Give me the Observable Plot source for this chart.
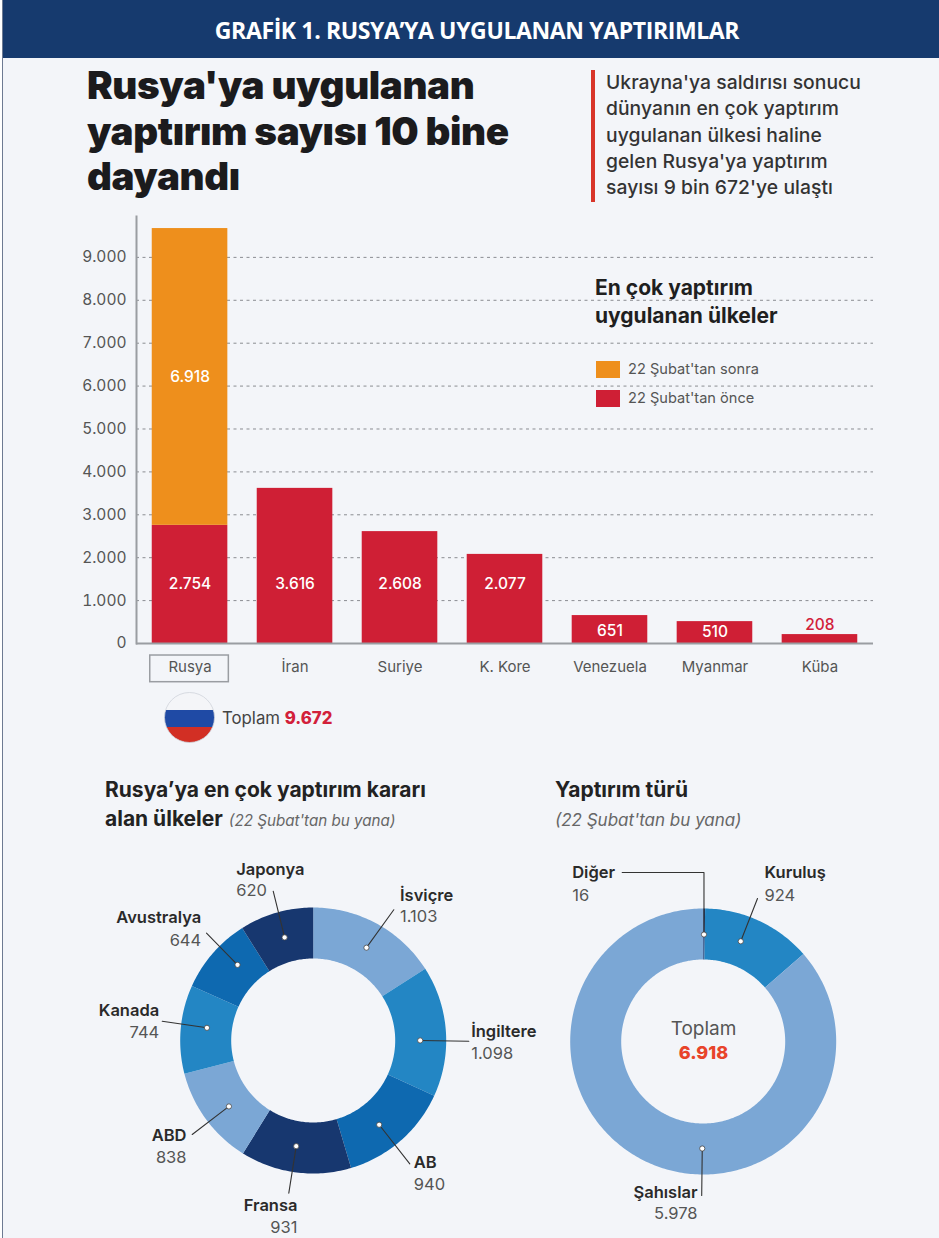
<!DOCTYPE html>
<html lang="tr">
<head>
<meta charset="utf-8">
<script src="https://cdn.jsdelivr.net/npm/d3@7"></script>
<script src="https://cdn.jsdelivr.net/npm/@observablehq/plot@0.6"></script>
<style>
html,body{margin:0;padding:0;background:#fff}
#page{position:relative;width:939px;height:1238px;overflow:hidden;background:#f3f5f9;font-family:Inter,sans-serif;color:#222}
#page>*{position:absolute}
.t{white-space:nowrap;margin:0}
</style>
</head>
<body>
<div id="page">
  <div style="left:0;top:0;width:2px;height:1238px;background:#fff"></div>
  <div style="left:2px;top:0;width:1px;height:1238px;background:#6d7a92"></div>
  <div style="left:3px;top:0;width:936px;height:58px;background:#163a6e"></div>
  <div class="t" style="left:15px;width:924px;top:14px;text-align:center;color:#fff;font:700 23px 'Open Sans',sans-serif;letter-spacing:-.38px">GRAFİK 1. RUSYA’YA UYGULANAN YAPTIRIMLAR</div>
  <h1 class="t" style="left:87px;top:63px;font:900 38.6px/45.5px Inter,sans-serif;color:#1b1b1d;letter-spacing:-.4px">Rusya'ya uygulanan<br>yaptırım sayısı 10 bine<br>dayandı</h1>
  <div style="left:591px;top:70px;width:3.5px;height:132px;background:#d8352a"></div>
  <div class="t" style="left:606px;top:69px;font:500 19.3px/26.3px Inter,sans-serif;color:#333;letter-spacing:.05px">Ukrayna'ya saldırısı sonucu<br>dünyanın en çok yaptırım<br>uygulanan ülkesi haline<br>gelen Rusya'ya yaptırım<br>sayısı 9 bin 672'ye ulaştı</div>

  <div id="bars" style="left:0;top:200px"></div>

  <div class="t" style="left:595px;top:274px;font:700 21px/28px Inter,sans-serif;color:#1f1f1f">En çok yaptırım<br>uygulanan ülkeler</div>
  <div style="left:596px;top:361px;width:24px;height:17px;background:#ee8f1c"></div>
  <div class="t" style="left:628px;top:361px;font:400 14.6px/17px Inter,sans-serif;color:#555">22 Şubat'tan sonra</div>
  <div style="left:596px;top:390px;width:24px;height:17px;background:#cf1f35"></div>
  <div class="t" style="left:628px;top:390px;font:400 14.6px/17px Inter,sans-serif;color:#555">22 Şubat'tan önce</div>

  <svg style="left:164px;top:692px" width="51" height="51" viewBox="0 0 51 51">
    <defs><clipPath id="flag"><circle cx="25.5" cy="25.5" r="25"/></clipPath></defs>
    <g clip-path="url(#flag)">
      <rect width="51" height="18" fill="#f4f5f8"/>
      <rect y="18" width="51" height="17" fill="#1f4aa5"/>
      <rect y="35" width="51" height="16" fill="#d22f24"/>
    </g>
    <circle cx="25.5" cy="25.5" r="25" fill="none" stroke="#cfd3da" stroke-width=".8"/>
  </svg>
  <div class="t" style="left:222px;top:709px;font:400 16.8px/19px Inter,sans-serif;color:#444">Toplam <b style="font-weight:800;color:#d2203a;font-size:16.8px">9.672</b></div>

  <div class="t" style="left:105px;top:775px;font:700 21px/29px Inter,sans-serif;color:#222">Rusya’ya en çok yaptırım kararı<br>alan ülkeler <i style="font:italic 400 15.2px Inter,sans-serif;color:#666;margin-left:1px">(22 Şubat'tan bu yana)</i></div>
  <div class="t" style="left:555px;top:775px;font:700 21px/29px Inter,sans-serif;color:#222">Yaptırım türü<br><i style="font:italic 400 17px Inter,sans-serif;color:#666">(22 Şubat'tan bu yana)</i></div>

  <div id="donutLeft" style="left:60px;top:850px"></div>
  <div id="donutRight" style="left:550px;top:850px"></div>
</div>
<script>
// ---- bar chart data
const countries = ["Rusya", "İran", "Suriye", "K. Kore", "Venezuela", "Myanmar", "Küba"];
const before = [2754, 3616, 2608, 2077, 651, 510, 208];
const after = [6918, 0, 0, 0, 0, 0, 0];
const yTicks = [0, 1000, 2000, 3000, 4000, 5000, 6000, 7000, 8000, 9000];
const periods = ["22 Şubat'tan önce", "22 Şubat'tan sonra"];
const periodColors = ["#cf1f35", "#ee8f1c"];
// vertical place of each number inside its bar, in chart units
const beforeLabelAt = [1377, 1377, 1377, 1377, 290, 270, 440];

// ---- donut data
const senders = ["İsviçre", "İngiltere", "AB", "Fransa", "ABD", "Kanada", "Avustralya", "Japonya"];
const senderValues = [1103, 1098, 940, 931, 838, 744, 644, 620];
const senderColors = ["#7ba7d5", "#2386c4", "#0e69b0", "#17376f", "#7ba7d5", "#2386c4", "#0e69b0", "#17376f"];
const kinds = ["Diğer", "Kuruluş", "Şahıslar"];
const kindValues = [16, 924, 5978];
const kindColors = ["#17376f", "#2386c4", "#7ba7d5"];

// ---- layout of the donut annotations (page pixels)
const senderDotFrac = [.52, .57, .56, .53, .46, .55, .62, .52];
const senderLabels = [
  {anchor: "start", x: 399.5, y: 900, vy: 921.7, ex: 393.3, ey: 909.3},
  {anchor: "start", x: 470.7, y: 1036, vy: 1058, ex: 468.3, ey: 1040.7},
  {anchor: "start", x: 413.3, y: 1167, vy: 1189, ex: 409.3, ey: 1163.3},
  {anchor: "end", x: 297, y: 1210.7, vy: 1232.7, ex: 288.3, ey: 1192.7},
  {anchor: "end", x: 186, y: 1140.7, vy: 1162, ex: 191.7, ey: 1134},
  {anchor: "end", x: 158.7, y: 1015, vy: 1037, ex: 161.7, ey: 1020.7},
  {anchor: "end", x: 200.7, y: 922.7, vy: 945, ex: 206, ey: 932.7},
  {anchor: "start", x: 235.7, y: 874, vy: 895.7, ex: 272.7, ey: 890.7}
];
const kindDotFrac = [.5, .41, .423];
const kindLabels = [
  {anchor: "start", x: 571.7, y: 877.3, vy: 900, ex: 621.7, ey: 872, elbow: true},
  {anchor: "start", x: 764, y: 877.3, vy: 900.7, ex: 757, ey: 898},
  {anchor: "end", x: 697, y: 1197.5, vy: 1218.5, ex: 701.2, ey: 1195}
];

const fmt = d => String(d).replace(/\B(?=(\d{3})+$)/g, ".");
const FONT = "Inter, sans-serif";

// ---- bar chart
const rows = countries.flatMap((c, i) => [
  {country: c, period: periods[0], value: before[i], at: beforeLabelAt[i]},
  {country: c, period: periods[1], value: after[i], at: before[i] + after[i] / 2}
]);
const inside = rows.filter(d => d.value >= 500);
const above = rows.filter(d => d.value > 0 && d.value < 500);

document.getElementById("bars").append(Plot.plot({
  width: 939, height: 500,
  marginLeft: 136, marginRight: 66, marginTop: 16, marginBottom: 57,
  style: {background: "transparent", fontFamily: FONT, fontSize: "15px", color: "#555", overflow: "visible"},
  x: {domain: countries, paddingInner: .28, paddingOuter: .15, round: false, label: null},
  y: {domain: [0, 9953], label: null},
  color: {domain: periods, range: periodColors},
  marks: [
    Plot.gridY(yTicks.slice(1), {stroke: "#8a8d92", strokeOpacity: 1, strokeWidth: 1, strokeDasharray: "3,3.5"}),
    Plot.barY(rows, {x: "country", y: "value", fill: "period"}),
    Plot.frame({anchor: "left", stroke: "#9a9da2", strokeWidth: 2}),
    Plot.ruleY([0], {stroke: "#9a9da2", strokeWidth: 2}),
    Plot.axisY({ticks: yTicks, tickSize: 0, tickPadding: 10, tickFormat: fmt, label: null, fill: "#555", fontSize: 15.5}),
    Plot.axisX({tickSize: 0, tickPadding: 18, label: null, fill: "#555", fontSize: 15}),
    Plot.barY(["Rusya"], {x: d => d, y1: -280, y2: -902, fill: "none", stroke: "#9a9da2", strokeWidth: 1.5, insetLeft: -2, insetRight: -1}),
    Plot.text(inside, {x: "country", y: "at", text: d => fmt(d.value), fill: "#fff", fontSize: 15.5, fontWeight: 500}),
    Plot.text(above, {x: "country", y: "value", text: d => fmt(d.value), fill: "#d2203a", fontSize: 15.5, fontWeight: 500, dy: -10})
  ]
}));

// ---- donut helpers
const OUTER = 133, INNER = 82, DOT = 107;
function slices(names, values) {
  const total = d3.sum(values);
  let acc = 0;
  return names.map((name, i) => {
    const a0 = acc / total * 2 * Math.PI;
    acc += values[i];
    return {name, value: values[i], a0, a1: acc / total * 2 * Math.PI};
  });
}
const polar = (cx, cy, r, a) => [cx + r * Math.sin(a), cy - r * Math.cos(a)];
function ring(cx, cy, s) {
  const n = Math.max(2, Math.ceil((s.a1 - s.a0) * 60));
  const pts = [];
  for (let k = 0; k <= n; ++k) pts.push(polar(cx, cy, OUTER, s.a0 + (s.a1 - s.a0) * k / n));
  for (let k = n; k >= 0; --k) pts.push(polar(cx, cy, INNER, s.a0 + (s.a1 - s.a0) * k / n));
  return pts.map(([x, y]) => ({x, y, name: s.name}));
}
function donut({names, values, colors, fracs, labels, cx, cy, x0, x1, extra = []}) {
  const sl = slices(names, values);
  const points = sl.flatMap(s => ring(cx, cy, s));
  const dots = sl.map((s, i) => {
    const [x, y] = polar(cx, cy, DOT, s.a0 + (s.a1 - s.a0) * fracs[i]);
    return {x, y, name: s.name};
  });
  const leaders = dots.flatMap((d, i) => {
    const l = labels[i];
    const path = [{x: l.ex, y: l.ey}];
    if (l.elbow) path.push({x: d.x, y: l.ey});
    path.push({x: d.x, y: d.y});
    return path.map(p => ({...p, name: d.name}));
  });
  const texts = names.map((n, i) => ({...labels[i], name: n, val: fmt(values[i])}));
  const textMarks = ["start", "end"].flatMap(anchor => {
    const sub = texts.filter(t => t.anchor === anchor);
    return [
      Plot.text(sub, {x: "x", y: "y", text: "name", textAnchor: anchor, lineAnchor: "bottom", fontSize: 16.5, fontWeight: 600, fill: "#2a2a2a"}),
      Plot.text(sub, {x: "x", y: "vy", text: "val", textAnchor: anchor, lineAnchor: "bottom", fontSize: 16.5, fontWeight: 400, fill: "#555"})
    ];
  });
  return Plot.plot({
    width: x1 - x0, height: 388, margin: 0,
    style: {background: "transparent", fontFamily: FONT, overflow: "visible"},
    x: {domain: [x0, x1], range: [0, x1 - x0], axis: null},
    y: {domain: [850, 1238], range: [0, 388], axis: null},
    color: {domain: names, range: colors},
    marks: [
      Plot.line(points, {x: "x", y: "y", z: "name", fill: "name", stroke: "none"}),
      Plot.line(leaders, {x: "x", y: "y", z: "name", stroke: "#333", strokeWidth: 1.1}),
      Plot.dot(dots, {x: "x", y: "y", r: 2.6, fill: "#fff", stroke: "#444", strokeWidth: .8}),
      ...textMarks,
      ...extra
    ]
  });
}

document.getElementById("donutLeft").append(donut({
  names: senders, values: senderValues, colors: senderColors,
  fracs: senderDotFrac, labels: senderLabels, cx: 312.7, cy: 1040, x0: 60, x1: 550
}));

document.getElementById("donutRight").append(donut({
  names: kinds, values: kindValues, colors: kindColors,
  fracs: kindDotFrac, labels: kindLabels, cx: 702.7, cy: 1041, x0: 550, x1: 900,
  extra: [
    Plot.text(["Toplam"], {x: () => 703, y: () => 1034, text: d => d, lineAnchor: "bottom", fontSize: 19, fill: "#555"}),
    Plot.text([fmt(d3.sum(kindValues))], {x: () => 703, y: () => 1058, text: d => d, lineAnchor: "bottom", fontSize: 18, fontWeight: 800, fill: "#e8432a"})
  ]
}));
</script>
</body>
</html>
